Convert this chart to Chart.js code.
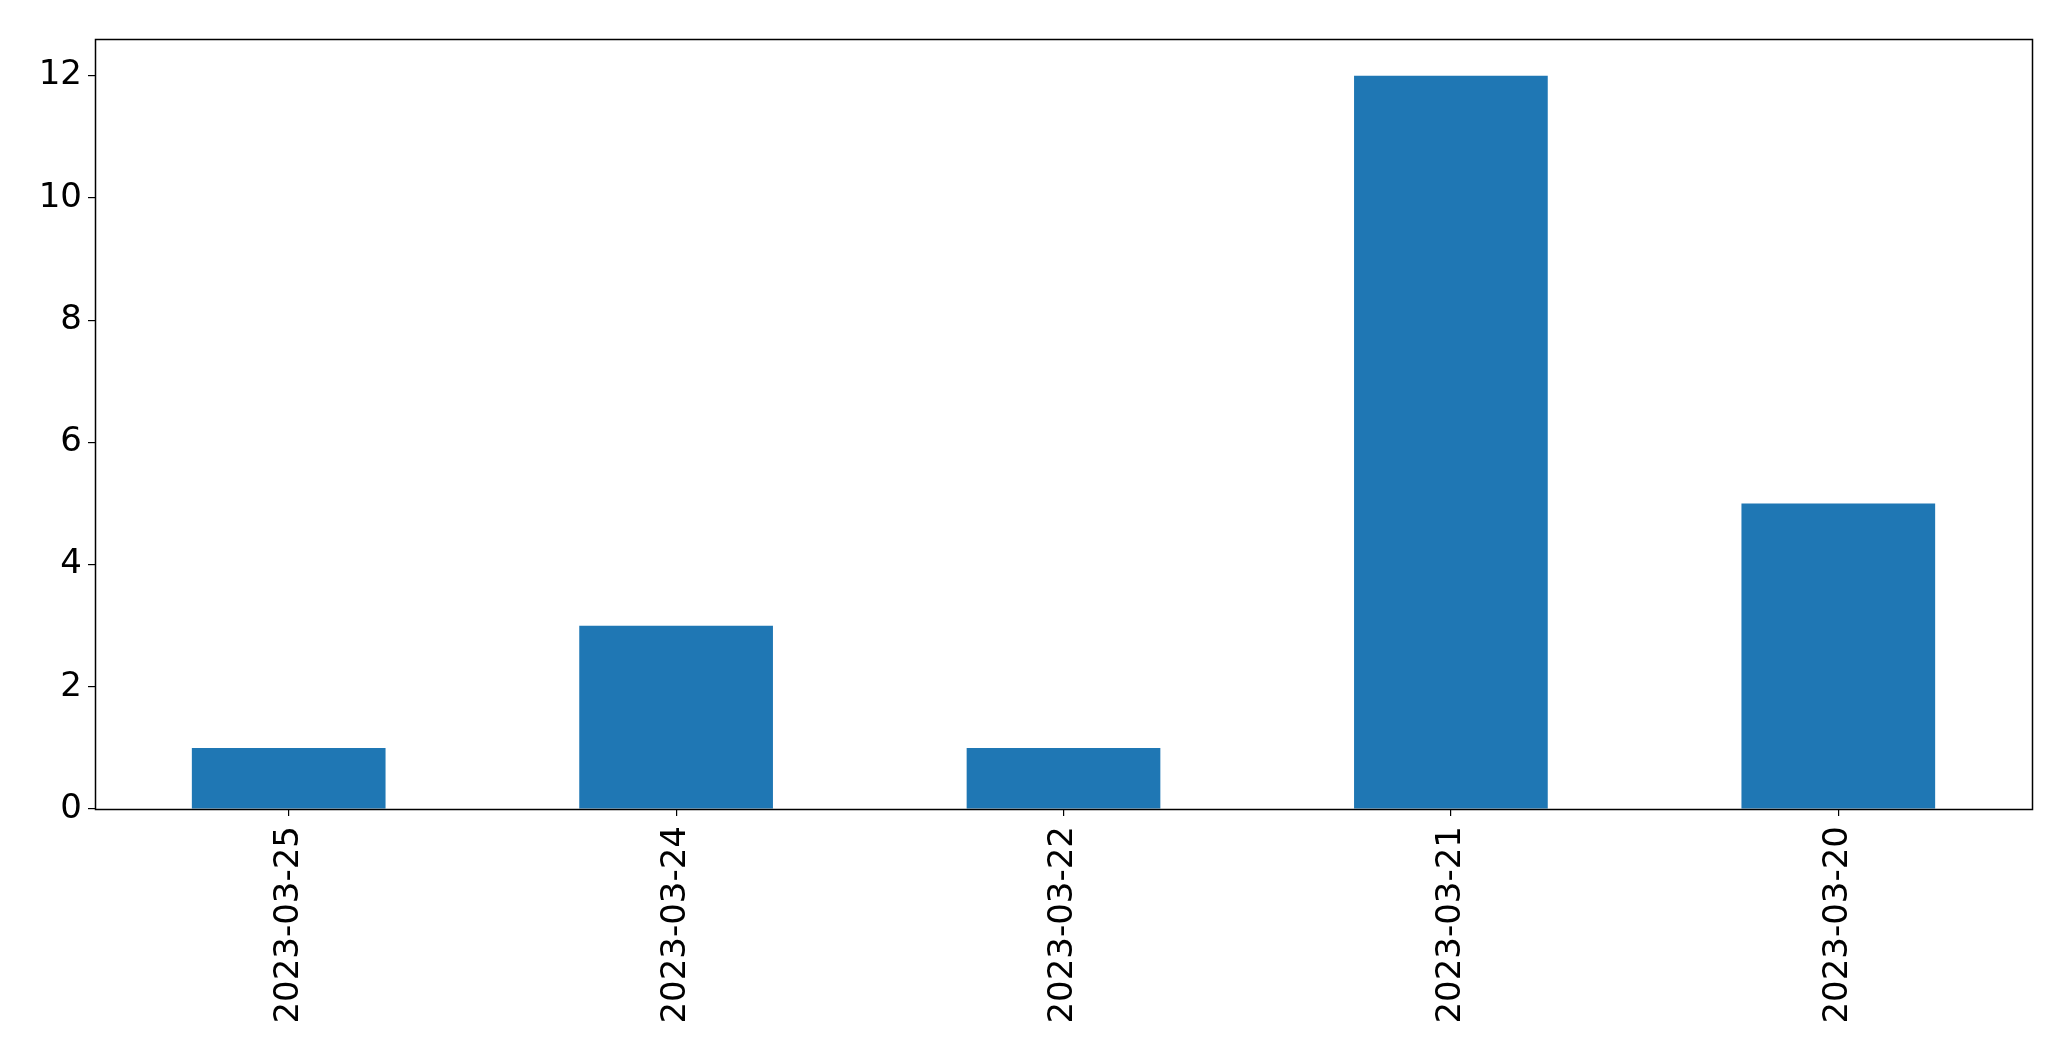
<!DOCTYPE html>
<html>
<head>
<meta charset="utf-8">
<script src="https://cdn.jsdelivr.net/npm/chart.js@4"></script>
<style>
  html, body { margin: 0; padding: 0; background: #fff; }
  #wrap { width: 2071px; height: 1061px; }
</style>
</head>
<body>
<div id="wrap"><canvas id="barChart"></canvas></div>
<script>
const dates = ["2023-03-25", "2023-03-24", "2023-03-22", "2023-03-21", "2023-03-20"];
const counts = [1, 3, 1, 12, 5];
const yTicks = [0, 2, 4, 6, 8, 10, 12];

// matplotlib-style box around the plot area
const frame = {
  id: "frame",
  afterDraw(chart) {
    const { ctx, chartArea: a } = chart;
    ctx.save();
    ctx.strokeStyle = "#000";
    ctx.lineWidth = 1.5;
    ctx.strokeRect(Math.round(a.left) + 0.5, Math.round(a.top) + 0.5,
      Math.round(a.right - a.left), Math.round(a.bottom - a.top));
    ctx.restore();
  }
};

Chart.defaults.font.family = "'DejaVu Sans', sans-serif";
Chart.defaults.font.size = 34;
Chart.defaults.color = "#000";

new Chart(document.getElementById("barChart"), {
  type: "bar",
  data: {
    labels: dates,
    datasets: [{
      data: counts,
      backgroundColor: "#1f77b4",
      categoryPercentage: 1,
      barPercentage: 0.5
    }]
  },
  options: {
    responsive: true,
    maintainAspectRatio: false,
    animation: false,
    layout: { padding: { top: 39, right: 39, left: 0, bottom: 0 } },
    plugins: { legend: { display: false }, tooltip: { enabled: false } },
    scales: {
      x: {
        grid: { offset: false, drawOnChartArea: false, drawTicks: true, tickLength: 7, color: "#000", lineWidth: 1.2 },
        border: { display: false },
        ticks: { minRotation: 90, maxRotation: 90, padding: 10, autoSkip: false },
        afterFit(scale) { scale.height = 252; }
      },
      y: {
        min: 0,
        max: 12.6,
        grid: { drawOnChartArea: false, drawTicks: true, tickLength: 7, color: "#000", lineWidth: 1.2 },
        border: { display: false },
        ticks: { padding: 6 },
        afterBuildTicks(scale) { scale.ticks = yTicks.map(v => ({ value: v })); },
        afterFit(scale) { scale.width = 95; }
      }
    }
  },
  plugins: [frame]
});
</script>
</body>
</html>
